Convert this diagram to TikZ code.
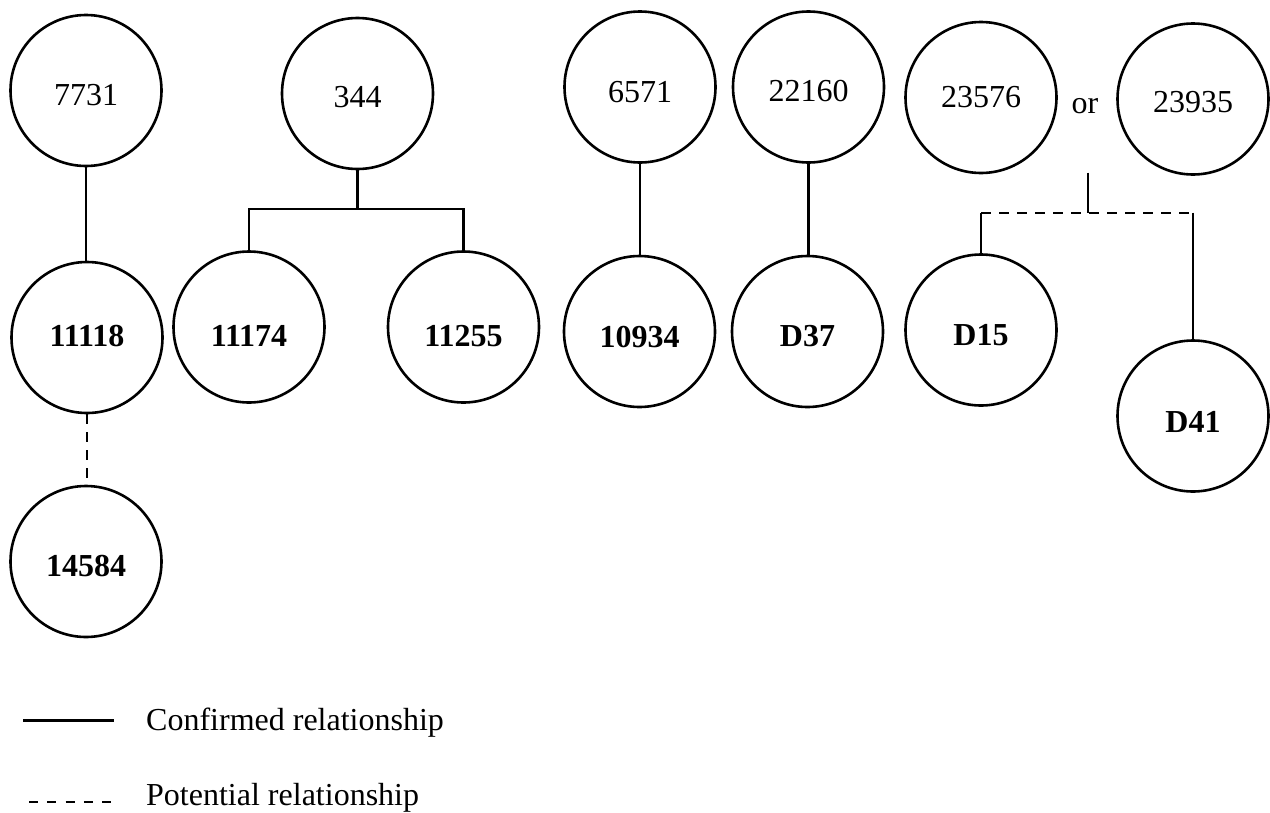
\documentclass[tikz,border=0pt]{standalone}
\usepackage{fontspec}
\setmainfont{Liberation Serif}
\begin{document}
\begin{tikzpicture}[x=1pt,y=-1pt,
  person/.style={circle,draw,line width=2.6pt,minimum size=151pt,inner sep=0pt,
    font=\fontsize{32}{38}\selectfont,text height=30pt,text depth=0pt},
  sample/.style={person,font=\fontsize{32}{38}\selectfont\bfseries},
  lift/.style={text height=#1},
  confirmed/.style={line width=2.4pt},
  potential/.style={line width=2.4pt,dash pattern=on 10pt off 8pt},
  legendtext/.style={anchor=base west,inner sep=0pt,font=\fontsize{32}{38}\selectfont}]
\useasboundingbox (0,0) rectangle (1270,812);

% top row
\node[person,lift=29.6pt] (a7731)  at (86,90.5)    {7731};
\node[person,lift=28.6pt] (a344)   at (357.5,93.5) {344};
\node[person,lift=31.6pt] (a6571)  at (640,87)     {6571};
\node[person,lift=29.6pt] (a22160) at (808.5,87)   {22160};
\node[person,lift=19.6pt] (a23576) at (981,97.5)   {23576};
\node[person,lift=27.6pt] (a23935) at (1193,99)    {23935};
\node[anchor=base,inner sep=0pt,font=\fontsize{32}{38}\selectfont] (or) at (1085,113) {or};

% second row
\node[sample,lift=18.6pt] (b11118) at (87,337.5)    {11118};
\node[sample,lift=39.6pt] (b11174) at (249,327)     {11174};
\node[sample,lift=39.6pt] (b11255) at (463.5,327)   {11255};
\node[sample,lift=32.6pt] (b10934) at (639.5,331.5) {10934};
\node[sample,lift=30.6pt] (bD37)   at (807.5,331.5) {D37};
\node[sample,lift=31.6pt] (bD15)   at (981,330)     {D15};
\node[sample,lift=33pt]   (bD41)   at (1193,416)    {D41};

% third row
\node[sample,lift=30.6pt] (c14584) at (86,561.5) {14584};

% single links
\draw[confirmed] (a7731.south) -- (a7731.south |- b11118.north);
\draw[confirmed] (a6571.south) -- (a6571.south |- b10934.north);
\draw[confirmed] (a22160.south) -- (a22160.south |- bD37.north);
\draw[potential] (b11118.south) -- (b11118.south |- c14584.north);

% 344 with two offspring
\coordinate (j344) at (357.5,209);
\draw[confirmed] (a344.south) -- (j344);
\draw[confirmed] (b11174.north) -- (b11174.north |- j344)
  -- (b11255.north |- j344) -- (b11255.north);

% either 23576 or 23935
\coordinate (jor) at (1088,172.7);
\coordinate (jbar) at (1088,212.7);
\draw[confirmed] (jor) -- (jbar);
\draw[potential] (bD15.north |- jbar) -- (bD41.north |- jbar);
\draw[confirmed] (bD15.north |- jbar) -- (bD15.north);
\draw[confirmed] (bD41.north |- jbar) -- (bD41.north);

% legend
\coordinate (l1a) at (23,720.7);
\coordinate (l1b) at (114,720.7);
\coordinate (l2a) at (29,802);
\coordinate (l2b) at (115,802);
\draw[confirmed,line width=2.6pt] (l1a) -- (l1b);
\draw[potential,line width=2.6pt,dash pattern=on 9pt off 9.3pt] (l2a) -- (l2b);
\node[legendtext] (lt1) at (146,730.7) {Confirmed relationship};
\node[legendtext] (lt2) at (146,805) {Potential relationship};
\end{tikzpicture}
\end{document}
